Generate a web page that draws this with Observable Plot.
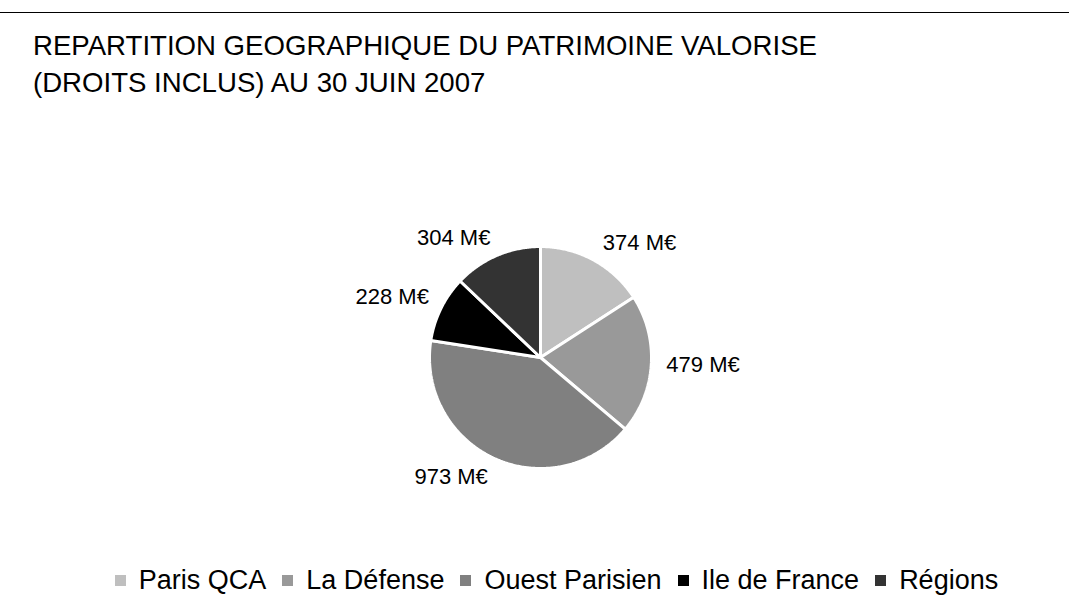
<!DOCTYPE html>
<html>
<head>
<meta charset="utf-8">
<script src="https://cdn.jsdelivr.net/npm/d3@7"></script>
<script src="https://cdn.jsdelivr.net/npm/@observablehq/plot@0.6"></script>
<style>
  html, body { margin: 0; padding: 0; background: #fff; }
  body { width: 1069px; height: 610px; position: relative; overflow: hidden;
         font-family: "Liberation Sans", Arial, Helvetica, sans-serif; color: #000; }
  #rule { position: absolute; left: 0; top: 12px; width: 1069px; border-top: 1.5px solid #000; }
  #title { position: absolute; left: 33px; top: 27px; font-size: 27.6px; line-height: 37px; white-space: nowrap; }
  #chart { position: absolute; left: 0; top: 157px; }
  #legend { position: absolute; left: 22px; top: 565px; width: 1069px; }
  .lg-swatches { font-family: "Liberation Sans", Arial, sans-serif !important; font-size: 27px !important;
                 justify-content: center !important; min-height: 0 !important; margin: 0 !important;
                 line-height: 30px !important; color: #000 !important; }
  .lg-swatch { margin-right: 16px !important; }
  .lg-swatch:last-child { margin-right: 0 !important; }
  .lg-swatch > svg { margin-right: 13px !important; }
</style>
</head>
<body>
<div id="rule"></div>
<div id="title">REPARTITION GEOGRAPHIQUE DU PATRIMOINE VALORISE<br>(DROITS INCLUS) AU 30 JUIN 2007</div>
<div id="chart"></div>
<div id="legend"></div>
<script>
// ---- data ----
const categories = ["Paris QCA", "La Défense", "Ouest Parisien", "Ile de France", "Régions"];
const values = [374, 479, 973, 228, 304];
const valueLabels = ["374 M€", "479 M€", "973 M€", "228 M€", "304 M€"];
const colors = ["#bfbfbf", "#999999", "#808080", "#000000", "#333333"];

// ---- build slices (unit circle, clockwise from 12 o'clock) ----
const rows = categories.map((name, i) => ({name, value: values[i], label: valueLabels[i]}));
const arcs = d3.pie().sort(null).value(d => d.value)(rows);

const polyPoints = [];
for (const a of arcs) {
  polyPoints.push({name: a.data.name, x: 0, y: 0});
  const steps = Math.max(2, Math.ceil((a.endAngle - a.startAngle) / 0.01));
  for (let k = 0; k <= steps; k++) {
    const t = a.startAngle + (a.endAngle - a.startAngle) * k / steps;
    polyPoints.push({name: a.data.name, x: Math.sin(t), y: Math.cos(t)});
  }
}

const labelR = 1.1;
const labelRows = arcs.map(a => {
  const m = (a.startAngle + a.endAngle) / 2;
  const s = Math.sin(m), c = Math.cos(m);
  return {
    label: a.data.label,
    x: labelR * s, y: labelR * c,
    textAnchor: s > 0.3 ? "start" : s < -0.3 ? "end" : "middle",
    lineAnchor: c > 0.3 ? "bottom" : c < -0.3 ? "top" : "middle",
    dx: s > 0.3 ? 4 : s < -0.3 ? -2 : 0
  };
});
const groups = d3.groups(labelRows, d => d.textAnchor + "|" + d.lineAnchor);
const textMarks = groups.map(([key, g]) => {
  const [textAnchor, lineAnchor] = key.split("|");
  return Plot.text(g, {x: "x", y: "y", text: "label", textAnchor, lineAnchor,
    dx: g[0].dx, fontSize: 22, fill: "#000"});
});

const W = 1069, H = 400, R = 111, CX = 540, CY = 200;
const plot = Plot.plot({
  width: W, height: H,
  margin: 0,
  style: {fontFamily: "Liberation Sans, Arial, sans-serif", background: "transparent"},
  x: {domain: [-1, 1], range: [CX - R, CX + R], axis: null},
  y: {domain: [-1, 1], range: [CY + R, CY - R], axis: null},
  color: {type: "ordinal", domain: categories, range: colors},
  marks: [
    Plot.line(polyPoints, {x: "x", y: "y", z: "name", fill: "name", stroke: "#fff",
      strokeWidth: 3, strokeLinejoin: "miter", curve: "linear-closed"}),
    ...textMarks
  ]
});
document.getElementById("chart").appendChild(plot);

const legend = plot.legend("color", {className: "lg", swatchSize: 11});
document.getElementById("legend").appendChild(legend);
</script>
</body>
</html>
